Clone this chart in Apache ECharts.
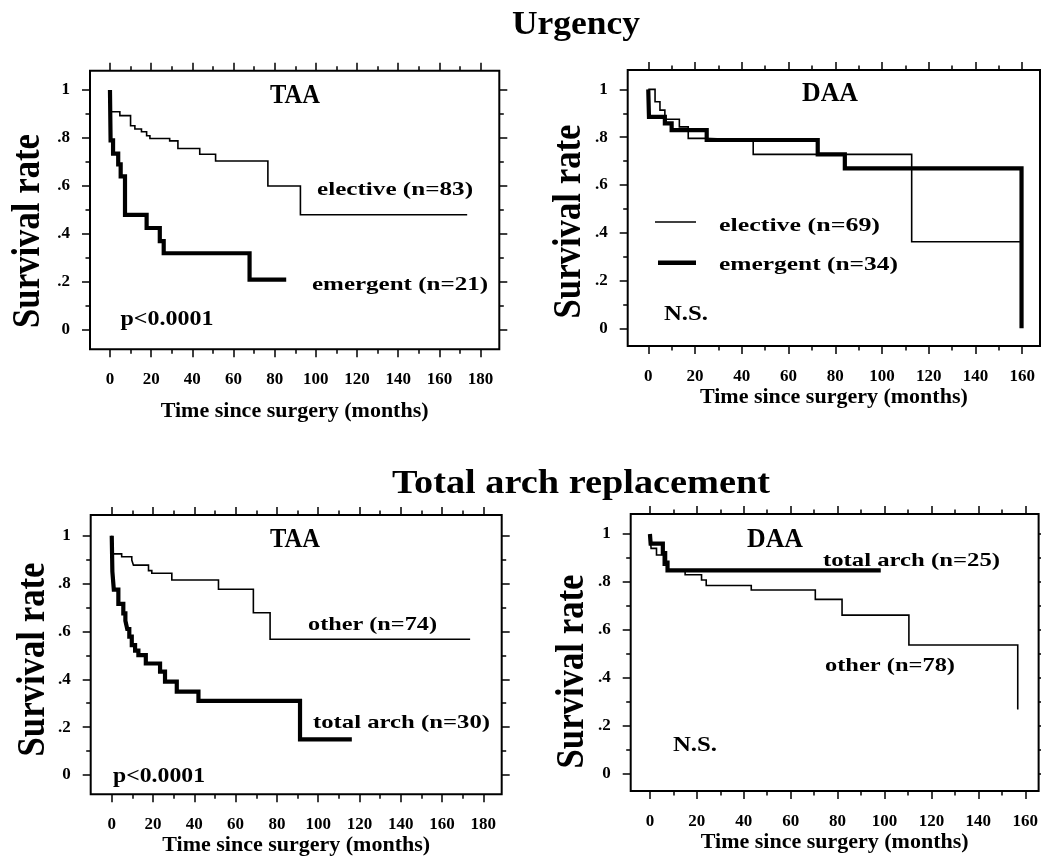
<!DOCTYPE html>
<html><head><meta charset="utf-8">
<script src="https://cdn.jsdelivr.net/npm/echarts@6/dist/echarts.min.js"></script>
<style>html,body{margin:0;padding:0;background:#fff}#c{width:1041px;height:858px}</style>
</head><body><div id="c"></div>
<script>
const FONT = '"Liberation Serif", "Times New Roman", serif';

// ---- data: Kaplan-Meier steps [months, survival] ----
const taaUrgencyElective = [[0,1],[0.5,0.909],[4.8,0.893],[10.0,0.851],[12.1,0.837],[15.3,0.826],[17.8,0.809],[19.4,0.798],[29,0.788],[33,0.756],[43.6,0.732],[51.3,0.704],[76.7,0.600],[92.5,0.480],[173.5,0.480]];
const taaUrgencyEmergent = [[0,1],[0.3,0.79],[1.5,0.735],[4.0,0.69],[5.2,0.64],[7.3,0.48],[17.8,0.425],[24.2,0.37],[26.1,0.32],[67.8,0.21],[85.6,0.21]];
const daaUrgencyElective = [[0,1],[2.9,0.948],[5.0,0.913],[7.1,0.875],[13.3,0.843],[17.1,0.795],[24.3,0.787],[44.9,0.728],[112.7,0.362],[159,0.362]];
const daaUrgencyEmergent = [[0,1],[0.3,0.885],[7.1,0.858],[10,0.829],[25,0.788],[72.5,0.728],[84.1,0.669],[159.7,0.669],[159.7,0]];
const taaArchOther = [[0,1],[0.5,0.924],[4.8,0.912],[9.7,0.898],[10.5,0.877],[17.8,0.854],[19.4,0.843],[29.1,0.815],[51.7,0.776],[68.6,0.678],[76.7,0.567],[173.6,0.567]];
const taaArchTotal = [[0,1],[0.3,0.85],[1.0,0.775],[3.2,0.715],[5.6,0.675],[6.6,0.645],[7.5,0.61],[8.5,0.578],[9.7,0.543],[11.3,0.52],[12.9,0.501],[16.5,0.466],[23.4,0.432],[25.8,0.39],[31.5,0.348],[42,0.31],[91.2,0.149],[116.3,0.149]];
const daaArchOther = [[0,1],[0.5,0.94],[2.8,0.912],[5.7,0.87],[7.5,0.845],[15,0.83],[22,0.808],[24,0.785],[43.2,0.766],[70.5,0.727],[81.9,0.661],[110.4,0.536],[156.8,0.536],[156.8,0.267]];
const daaArchTotal = [[0,1],[0.3,0.96],[5.5,0.92],[6.5,0.88],[7.5,0.848],[98.4,0.848]];

// ---- tick values / labels ----
const xMajor180 = [0,20,40,60,80,100,120,140,160,180];
const xMinor180 = [10,30,50,70,90,110,130,150,170];
const xMajor160 = [0,20,40,60,80,100,120,140,160];
const xMinor160 = [10,30,50,70,90,110,130,150];
const yMajor = [0,0.2,0.4,0.6,0.8,1];
const yMinor = [0.1,0.3,0.5,0.7,0.9];
const yTickLabels = ['0','.2','.4','.6','.8','1'];
const xAxisTitle = 'Time since surgery (months)';

// ---- panel layout ----
const panels = [
  {left:90, top:70.7, right:499.3, bottom:349.3, xmin:-9.7, xmax:189.1, ymin:-0.080, ymax:1.080,
   xMajor:xMajor180, xMinor:xMinor180, nameGap:51,
   series:[{name:'elective (n=83)', data:taaUrgencyElective, w:1.6},{name:'emergent (n=21)', data:taaUrgencyEmergent, w:4.2}]},
  {left:627.7, top:70, right:1040, bottom:346, xmin:-8.8, xmax:167.6, ymin:-0.074, ymax:1.081,
   xMajor:xMajor160, xMinor:xMinor160, nameGap:39,
   series:[{name:'elective (n=69)', data:daaUrgencyElective, w:1.6},{name:'emergent (n=34)', data:daaUrgencyEmergent, w:4.2}]},
  {left:90.7, top:515, right:501.7, bottom:794.3, xmin:-10.2, xmax:188.9, ymin:-0.0807, ymax:1.0865,
   xMajor:xMajor180, xMinor:xMinor180, nameGap:38,
   series:[{name:'other (n=74)', data:taaArchOther, w:1.6},{name:'total arch (n=30)', data:taaArchTotal, w:4.2}]},
  {left:630.7, top:514, right:1040, bottom:791, xmin:-8.2, xmax:165.7, ymin:-0.074, ymax:1.0836,
   xMajor:xMajor160, xMinor:xMinor160, nameGap:37,
   series:[{name:'other (n=78)', data:daaArchOther, w:1.6},{name:'total arch (n=25)', data:daaArchTotal, w:4.2}]}
];

const grids = [], xAxes = [], yAxes = [], series = [];
const tickStyle = {color:'#000', width:1.5};
const labelFont = {fontFamily:FONT, fontWeight:'bold', fontSize:17, color:'#000'};
const hiddenLine = {show:false, onZero:false};

panels.forEach((p, i) => {
  grids.push({left:p.left, top:p.top, width:p.right-p.left, height:p.bottom-p.top,
    show:true, borderColor:'#000', borderWidth:2, backgroundColor:'transparent'});
  const xBase = {type:'value', gridIndex:i, min:p.xmin, max:p.xmax,
    axisLine:hiddenLine, splitLine:{show:false}};
  const yBase = {type:'value', gridIndex:i, min:p.ymin, max:p.ymax,
    axisLine:hiddenLine, splitLine:{show:false}};
  // bottom major (with labels)
  xAxes.push(Object.assign({}, xBase, {position:'bottom',
    name:xAxisTitle, nameLocation:'middle', nameGap:p.nameGap,
    nameTextStyle:{fontFamily:FONT, fontWeight:'bold', fontSize:22, color:'#000'},
    axisTick:{show:true, inside:false, length:8, lineStyle:tickStyle, customValues:p.xMajor},
    axisLabel:Object.assign({show:true, margin:22, customValues:p.xMajor, formatter:v=>String(Math.round(v))}, labelFont)}));
  // bottom minor
  xAxes.push(Object.assign({}, xBase, {position:'bottom',
    axisTick:{show:true, inside:false, length:4.5, lineStyle:tickStyle, customValues:p.xMinor},
    axisLabel:{show:false}}));
  // top major / minor
  xAxes.push(Object.assign({}, xBase, {position:'top',
    axisTick:{show:true, inside:false, length:8, lineStyle:tickStyle, customValues:p.xMajor},
    axisLabel:{show:false}}));
  xAxes.push(Object.assign({}, xBase, {position:'top',
    axisTick:{show:true, inside:false, length:4.5, lineStyle:tickStyle, customValues:p.xMinor},
    axisLabel:{show:false}}));
  // left major (labels)
  yAxes.push(Object.assign({}, yBase, {position:'left',
    axisTick:{show:true, inside:false, length:8, lineStyle:tickStyle, customValues:yMajor},
    axisLabel:Object.assign({show:true, margin:20, customValues:yMajor,
      formatter:v=>yTickLabels[Math.round(v*5)]}, labelFont)}));
  yAxes.push(Object.assign({}, yBase, {position:'left',
    axisTick:{show:true, inside:false, length:4.5, lineStyle:tickStyle, customValues:yMinor},
    axisLabel:{show:false}}));
  yAxes.push(Object.assign({}, yBase, {position:'right',
    axisTick:{show:true, inside:false, length:8, lineStyle:tickStyle, customValues:yMajor},
    axisLabel:{show:false}}));
  yAxes.push(Object.assign({}, yBase, {position:'right',
    axisTick:{show:true, inside:false, length:4.5, lineStyle:tickStyle, customValues:yMinor},
    axisLabel:{show:false}}));
  p.series.forEach(s => {
    series.push({type:'line', name:s.name, step:'end', data:s.data, symbol:'none', showSymbol:false,
      xAxisIndex:i*4, yAxisIndex:i*4, silent:true, animation:false,
      lineStyle:{color:'#000', width:s.w, join:'miter', cap:'butt'}});
  });
});

// ---- text annotations ----
const mctx = document.createElement('canvas').getContext('2d');
function txt(text, cx, cy, size, width, rot, sy) {
  const font = 'bold ' + size + 'px ' + FONT;
  mctx.font = font;
  const w = mctx.measureText(text).width || 1;
  return {type:'text', x:cx, y:cy, rotation:rot||0, scaleX: width ? width/w : 1, scaleY: sy || 1,
    silent:true, z:100,
    style:{text:text, fill:'#000', font:font, align:'center', verticalAlign:'middle'}};
}
function seg(x1, y1, x2, y2, lw) {
  return {type:'line', silent:true, z:100, shape:{x1:x1, y1:y1, x2:x2, y2:y2},
    style:{stroke:'#000', lineWidth:lw}};
}
const R = Math.PI/2;
const graphics = [
  txt('Urgency', 576, 25, 34, 128),
  txt('Total arch replacement', 581, 484, 34, 378),
  // panel 1
  txt('Survival rate', 29, 231, 36, 194, R, 1.1),
  txt('TAA', 295, 96, 25, 50, 0, 1.1),
  txt('elective (n=83)', 395, 190, 19, 156),
  txt('emergent (n=21)', 400, 285, 19, 176),
  txt('p<0.0001', 167, 320, 21, 93),
  // panel 2
  txt('Survival rate', 569.5, 221.5, 36, 194, R, 1.1),
  txt('DAA', 830, 93.5, 25, 56, 0, 1.1),
  seg(655, 222, 696, 222, 1.6),
  seg(658, 262.7, 696, 262.7, 4.5),
  txt('elective (n=69)', 799.5, 226.5, 19, 161),
  txt('emergent (n=34)', 808.5, 265, 19, 179),
  txt('N.S.', 686, 314.5, 22, 44),
  // panel 3
  txt('Survival rate', 34, 659.5, 36, 194, R, 1.1),
  txt('TAA', 295, 540, 25, 50, 0, 1.1),
  txt('other (n=74)', 372.5, 625, 19, 129),
  txt('total arch (n=30)', 401.5, 723.5, 19, 177),
  txt('p<0.0001', 159, 776.5, 21, 92),
  // panel 4
  txt('Survival rate', 572.5, 671.5, 36, 194, R, 1.1),
  txt('DAA', 775, 540, 25, 56, 0, 1.1),
  txt('total arch (n=25)', 911.5, 561, 19, 177),
  txt('other (n=78)', 890, 666.5, 19, 130),
  txt('N.S.', 695, 745, 22, 44)
];

const chart = echarts.init(document.getElementById('c'), null, {renderer:'canvas'});
chart.setOption({
  animation:false,
  backgroundColor:'#fff',
  textStyle:{fontFamily:FONT},
  grid:grids, xAxis:xAxes, yAxis:yAxes, series:series,
  graphic:graphics
});
</script></body></html>
